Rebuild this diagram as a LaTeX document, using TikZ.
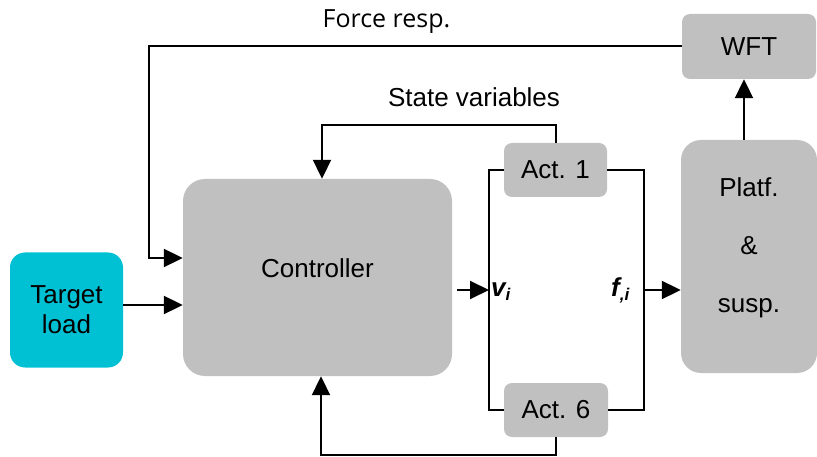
\documentclass[tikz,border=0pt]{standalone}
\usepackage{fontspec}
\setmainfont{Liberation Sans}
\newfontfamily\labfont{Open Sans}
\usetikzlibrary{arrows.meta}
\definecolor{boxgray}{HTML}{C0C0C0}
\definecolor{tcyan}{HTML}{00C1D4}
\newcommand{\mysub}[1]{\raisebox{-5pt}{\fontsize{17}{17}\selectfont #1}}
\begin{document}
\begin{tikzpicture}[x=1pt,y=-1pt,
  blk/.style={fill=boxgray, draw=none, inner sep=0pt, font=\fontsize{26}{31}\selectfont, align=center},
  txt/.style={inner sep=0pt, font=\fontsize{26}{31}\selectfont, align=center},
  conn/.style={line width=2pt, -{Triangle[length=19pt,width=18pt]}},
  wire/.style={line width=2pt}]
\useasboundingbox (0,0) rectangle (817,457);
% blocks
\node[blk, fill=tcyan, rounded corners=15pt, minimum width=113pt, minimum height=115pt] (target) at (66.5,310) {Target\\[-1pt]load};
\node[blk, rounded corners=22pt, minimum width=269pt, minimum height=197pt] (ctrl) at (317.5,277.5) {};
\node[txt] (ctrltext) at (317.5,268) {Controller};
\node[blk, rounded corners=8pt, minimum width=103pt, minimum height=54pt] (act1) at (555.5,170) {Act. 1};
\node[blk, rounded corners=8pt, minimum width=104pt, minimum height=54pt] (act6) at (556,410) {Act. 6};
\node[blk, rounded corners=8pt, minimum width=134pt, minimum height=65pt] (wft) at (749,46.5) {WFT};
\node[blk, rounded corners=20pt, minimum width=136pt, minimum height=233pt] (platf) at (749,256.5) {};
\node[txt] (platftext) at (749,248) {Platf.\\[27pt]\&\\[27pt]susp.};
% labels
\node[inner sep=0pt, font=\fontsize{25}{30}\labfont] (forcelab) at (386.5,22) {Force resp.};
\node[txt] (statelab) at (474,97) {State variables};
\coordinate (vin) at (489,290);
\coordinate (fout) at (644,290);
\node[inner sep=0pt, anchor=base west, font=\fontsize{26}{31}\selectfont\bfseries\itshape] (vlab) at (491,296) {v\mysub{i}};
\node[inner sep=0pt, anchor=base west, font=\fontsize{26}{31}\selectfont\bfseries\itshape] (flab) at (611,296) {f\mysub{,i}};
% connectors
\draw[conn] (target.east |- 0,305) -- (ctrl.west |- 0,305);
\draw[conn] (wft.west) -- (149,46.5) -- (149,258) -- (ctrl.west |- 0,258);
\draw[conn] (act1.north) |- (322,125) -- (ctrl.north -| 322,0);
\draw[conn] (act6.south) |- (321,455) -- (ctrl.south -| 321,0);
\draw[conn, shorten <=5pt] (ctrl.east |- vin) -- (vin);
\draw[wire] (act1.west) -| (vin) |- (act6.west);
\draw[wire] (act1.east) -| (fout) |- (act6.east);
\draw[conn] (fout) -- (platf.west |- fout);
\draw[conn] (platf.north -| 744,0) -- (wft.south -| 744,0);
\end{tikzpicture}
\end{document}
